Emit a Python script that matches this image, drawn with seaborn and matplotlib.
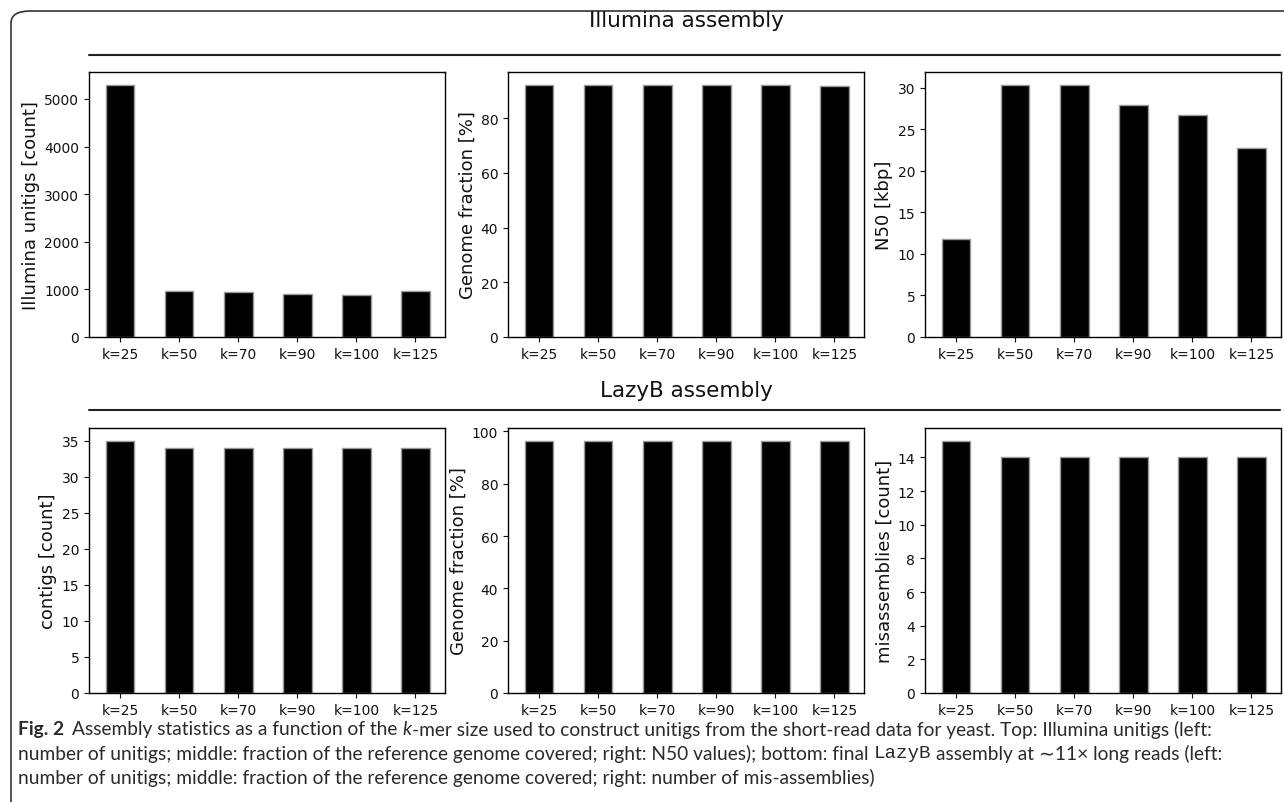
import matplotlib
matplotlib.use('Agg')
import matplotlib.pyplot as plt
from matplotlib.patches import FancyBboxPatch
from matplotlib.lines import Line2D
import seaborn as sns
import pandas as pd

# ---- data ----
K_LABELS = ['k=25', 'k=50', 'k=70', 'k=90', 'k=100', 'k=125']

ILLUMINA_UNITIGS = [5300, 965, 945, 900, 886, 975]
ILLUMINA_GENOME_FRACTION = [92.0, 92.3, 92.3, 92.2, 92.1, 91.9]
ILLUMINA_N50 = [11.8, 30.4, 30.4, 27.9, 26.8, 22.8]

LAZYB_CONTIGS = [35, 34, 34, 34, 34, 34]
LAZYB_GENOME_FRACTION = [96.2, 96.5, 96.5, 96.5, 96.4, 96.4]
LAZYB_MISASSEMBLIES = [15, 14, 14, 14, 14, 14]

PANELS = [
    # (values, ylabel, left px, top px)
    (ILLUMINA_UNITIGS, 'Illumina unitigs [count]', 89, 73),
    (ILLUMINA_GENOME_FRACTION, 'Genome fraction [%]', 508, 73),
    (ILLUMINA_N50, 'N50 [kbp]', 925, 73),
    (LAZYB_CONTIGS, 'contigs [count]', 89, 429),
    (LAZYB_GENOME_FRACTION, 'Genome fraction [%]', 508, 429),
    (LAZYB_MISASSEMBLIES, 'misassemblies [count]', 925, 429),
]

W, H = 1284, 803
AX_W, AX_H = 356, 265

sns.set_style('ticks')
plt.rcParams['font.family'] = ['DejaVu Sans']

fig = plt.figure(figsize=(W / 100, H / 100), dpi=100)


def px_axes(left, top, w, h):
    return fig.add_axes([left / W, 1 - (top + h) / H, w / W, h / H])


for vals, ylab, left, top in PANELS:
    ax = px_axes(left, top, AX_W, AX_H)
    df = pd.DataFrame({'k': K_LABELS, 'v': vals})
    sns.barplot(data=df, x='k', y='v', color='black', saturation=1,
                width=0.48, edgecolor='#999999', linewidth=1, ax=ax)
    ax.set_xlim(-0.53, 5.5)
    ax.set_ylim(0, max(vals) * 1.05)
    ax.set_xlabel('')
    ax.set_ylabel(ylab, fontsize=13, color='#111111', labelpad=3)
    ax.tick_params(labelsize=10, colors='#111111', length=3.5, width=0.8)
    for s in ax.spines.values():
        s.set_color('black')
        s.set_linewidth(1)

# section headers
for title, y_txt, y_line in [('Illumina assembly', 21, 56), ('LazyB assembly', 391, 411)]:
    fig.text(686 / W, 1 - y_txt / H, title, ha='center', va='center',
             fontsize=15.5, color='#111111')
    fig.add_artist(Line2D([89 / W, 1280 / W], [1 - y_line / H] * 2,
                          transform=fig.transFigure, color='#222222', lw=1.5))

# rounded frame
fig.add_artist(FancyBboxPatch((11 / W, -0.05), 1.2, 1 - 12 / H + 0.05,
                              boxstyle='round,pad=0,rounding_size=0.015',
                              transform=fig.transFigure, fill=False,
                              edgecolor='#333333', lw=1.2))

# caption, drawn as runs of differently styled text
cap_color = '#2a2a2a'
family = ['Lato', 'DejaVu Sans']
fig.canvas.draw()
renderer = fig.canvas.get_renderer()

STYLES = {
    'n': dict(family=family),
    'b': dict(family=family, weight='bold'),
    'i': dict(family=family, style='italic'),
    'm': dict(family=['Liberation Mono', 'DejaVu Sans Mono']),
}

LINES = [
    (730, [('Fig. 2', 'b', 8), ('Assembly statistics as a function of the', 'n', 's'),
           ('k', 'i', 0), ('-mer size used to construct unitigs from the short-read data for yeast. '
                           'Top: Illumina unitigs (left:', 'n', 0)]),
    (754, [('number of unitigs; middle: fraction of the reference genome covered; right: '
            'N50 values); bottom: final', 'n', 's'), ('LazyB', 'm', 's'),
           ('assembly at \u223c11\u00d7 long reads (left:', 'n', 0)]),
    (778, [('number of unitigs; middle: fraction of the reference genome covered; '
            'right: number of mis-assemblies)', 'n', 0)]),
]


def space_width(size):
    a = fig.text(0, 0, 'a a', fontsize=size, **STYLES['n'])
    b = fig.text(0, 0, 'aa', fontsize=size, **STYLES['n'])
    w = a.get_window_extent(renderer).width - b.get_window_extent(renderer).width
    a.remove()
    b.remove()
    return w


def draw_runs(size, keep):
    arts = []
    first_end = None
    sp = space_width(size)
    for li, (y, runs) in enumerate(LINES):
        x = 18
        for txt, st, gap in runs:
            t = fig.text(x / W, 1 - y / H, txt, va='center', ha='left',
                         fontsize=size, color=cap_color, **STYLES[st])
            arts.append(t)
            x += t.get_window_extent(renderer).width
            x += sp if gap == 's' else gap
        if li == 0:
            first_end = x
    if not keep:
        for a in arts:
            a.remove()
    return first_end


base = 12
end = draw_runs(base, keep=False)
size = base * (1210 - 18) / (end - 18)
draw_runs(size, keep=True)

fig.savefig('out.png', dpi=100)
